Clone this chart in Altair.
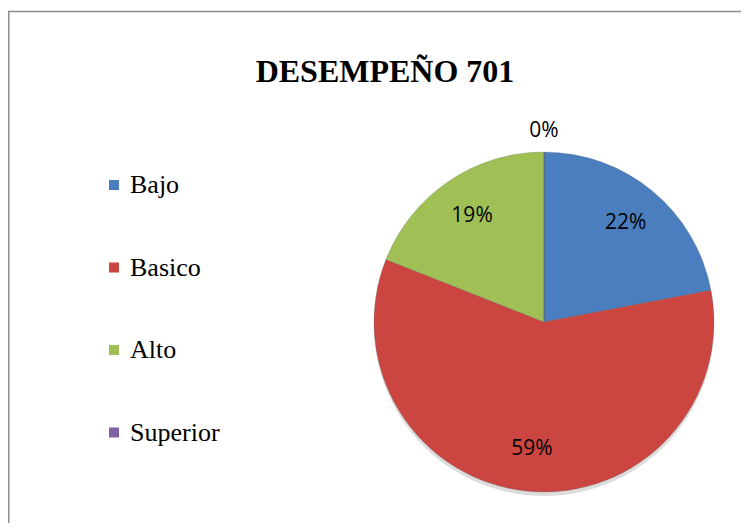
import altair as alt
import pandas as pd

# ---- data ----
titulo = ["DESEMPEÑO 701"]
categorias = ["Bajo", "Basico", "Alto", "Superior"]
valores = [22, 59, 19, 0]
etiquetas = ["22%", "59%", "19%", "0%"]
colores = ["#4A7EBF", "#CB4541", "#A0C056", "#7E62A3"]

df = pd.DataFrame({
    "categoria": categorias,
    "valor": valores,
    "etiqueta": etiquetas,
    "orden": list(range(len(categorias))),
})

W, H = 733, 515
CX, CY, R = 536, 314, 170

base = alt.Chart(df)
uno = pd.DataFrame({"k": [0]})

borde_sup = alt.Chart(uno).mark_rule(stroke="#8a8a8a", strokeWidth=1.5).encode(
    x=alt.value(0), x2=alt.value(W), y=alt.value(3.5)
)
borde_izq = alt.Chart(uno).mark_rule(stroke="#8a8a8a", strokeWidth=1.5).encode(
    x=alt.value(0.8), y=alt.value(3.5), y2=alt.value(H)
)

sombra = base.mark_arc(outerRadius=R, color="#9a9a9a", opacity=0.35).encode(
    theta=alt.Theta("valor:Q", stack=True),
    x=alt.value(CX),
    y=alt.value(CY + 4),
)

tarta = base.mark_arc(outerRadius=R, stroke="#5a5a5a", strokeWidth=0.4, strokeOpacity=0.6).encode(
    theta=alt.Theta("valor:Q", stack=True),
    order=alt.Order("orden:Q"),
    color=alt.Color(
        "categoria:N",
        scale=alt.Scale(domain=categorias, range=colores),
        legend=alt.Legend(
            title=None,
            orient="none",
            legendX=93,
            legendY=164,
            symbolType="square",
            symbolSize=100,
            symbolStrokeWidth=0,
            labelFont="Liberation Serif",
            labelFontSize=26,
            labelColor="#000000",
            labelOffset=3,
            rowPadding=56.5,
            padding=0,
        ),
    ),
    x=alt.value(CX),
    y=alt.value(CY),
)

textos = base.transform_calculate(
    rlab="datum.valor == 0 ? 191 : 128"
).mark_text(
    font="Open Sans", fontSize=21, color="#000000"
).encode(
    theta=alt.Theta("valor:Q", stack=True),
    order=alt.Order("orden:Q"),
    radius=alt.Radius("rlab:Q", scale=None),
    text=alt.Text("etiqueta:N"),
    x=alt.value(CX),
    y=alt.value(CY),
)

cabecera = alt.Chart(pd.DataFrame({"t": titulo})).mark_text(
    font="Liberation Serif", fontSize=32, fontWeight="bold", color="#000000",
    baseline="alphabetic", align="center"
).encode(
    text="t:N", x=alt.value(377), y=alt.value(74)
)

chart = alt.layer(borde_sup, borde_izq, sombra, tarta, textos, cabecera).properties(
    width=W, height=H, padding=0, autosize=alt.AutoSizeParams(type="none")
).configure_view(stroke=None).configure_legend(
    labelFont="Liberation Serif", labelFontSize=26, labelColor="#000000"
)

chart.save("out.html", embed_options={"renderer": "svg", "actions": False})
